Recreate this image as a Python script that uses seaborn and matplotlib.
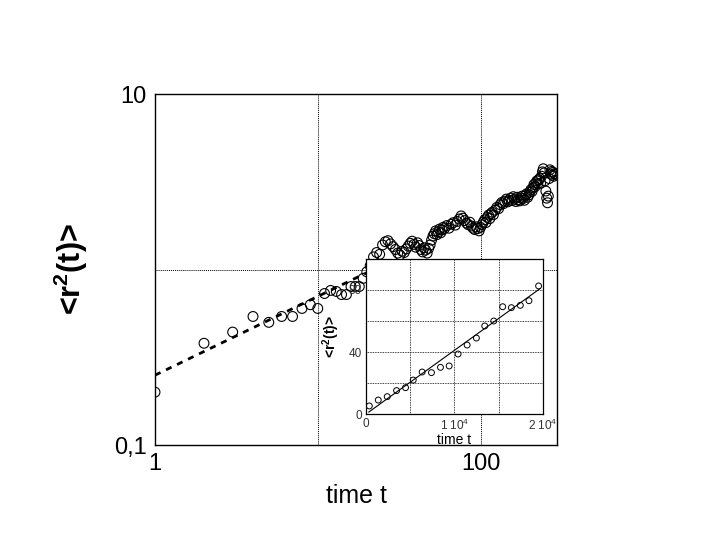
import matplotlib
matplotlib.use('Agg')
import matplotlib.pyplot as plt
from matplotlib.ticker import FixedLocator, FixedFormatter, NullLocator
import seaborn as sns
import pandas as pd

# main panel: mean square displacement vs time (log-log)
t_main = (list(range(1, 61))
          + list(range(62, 121, 2))
          + list(range(123, 229, 3))
          + list(range(231, 289, 3)))
r2_main = [
    0.20, 0.38, 0.44, 0.54, 0.50, 0.54, 0.54, 0.60, 0.63, 0.60,
    0.73, 0.76, 0.75, 0.72, 0.72, 0.80, 0.80, 0.80, 0.89, 0.97,
    1.05, 1.18, 1.25, 1.22, 1.38, 1.44, 1.46, 1.40, 1.35, 1.30,
    1.24, 1.21, 1.27, 1.25, 1.31, 1.36, 1.41, 1.45, 1.39, 1.34,
    1.42, 1.37, 1.30, 1.26, 1.33, 1.29, 1.24, 1.32, 1.38, 1.47,
    1.55, 1.60, 1.66, 1.58, 1.64, 1.70, 1.62, 1.68, 1.74, 1.71,
    # 62..120 step 2
    1.78, 1.72, 1.81, 1.85, 1.79, 1.88, 1.94, 2.02, 1.96, 1.90,
    1.84, 1.80, 1.86, 1.77, 1.72, 1.69, 1.75, 1.71, 1.66, 1.74,
    1.80, 1.86, 1.92, 1.85, 1.98, 2.04, 1.95, 2.08, 2.12, 2.05,
    # 123..228 step 3
    2.18, 2.26, 2.22, 2.34, 2.41, 2.37, 2.45, 2.52, 2.43, 2.48,
    2.55, 2.47, 2.60, 2.52, 2.44, 2.58, 2.50, 2.46, 2.56, 2.62,
    2.54, 2.48, 2.64, 2.70, 2.58, 2.66, 2.76, 2.85, 2.78, 2.92,
    3.05, 2.96, 3.12, 3.20, 3.08, 3.25,
    # 231..288 step 3
    3.30, 3.10, 3.40, 3.60, 3.75, 3.55, 3.20, 2.80, 2.55, 2.40,
    2.62, 3.30, 3.70, 3.50, 3.62, 3.45, 3.58, 3.40, 3.52, 3.48,
]

# power-law fit shown as dashed line (end points)
fit_main_t = [1, 30]
fit_main_r2 = [0.25, 1.15]

# inset: linear scale, long times
t_inset = [376, 1390, 2400, 3460, 4470, 5340, 6350, 7400, 8420, 9400,
           10410, 11430, 12480, 13420, 14440, 15450, 16430, 17440, 18420, 19510]
r2_inset = [5.2, 9.0, 11.2, 15.1, 17.0, 21.9, 27.1, 26.7, 30.1, 31.0,
            38.7, 44.5, 49.0, 56.8, 60.0, 69.2, 68.6, 70.1, 73.1, 82.6]
fit_inset_t = [300, 19700]
fit_inset_r2 = [1.2, 81.0]

df_main = pd.DataFrame({'t': t_main, 'r2': r2_main})
df_fit = pd.DataFrame({'t': fit_main_t, 'r2': fit_main_r2})
df_in = pd.DataFrame({'t': t_inset, 'r2': r2_inset})
df_in_fit = pd.DataFrame({'t': fit_inset_t, 'r2': fit_inset_r2})

sns.set_style('white')
plt.rcParams['font.family'] = ['Liberation Sans', 'DejaVu Sans']
plt.rcParams['mathtext.fontset'] = 'custom'
plt.rcParams['mathtext.rm'] = 'Liberation Sans'
plt.rcParams['mathtext.bf'] = 'Liberation Sans:bold'
plt.rcParams['text.color'] = 'black'
plt.rcParams['axes.labelcolor'] = 'black'
plt.rcParams['xtick.color'] = 'black'
plt.rcParams['ytick.color'] = 'black'

fig = plt.figure(figsize=(7.2, 5.4), dpi=100)
ax = fig.add_axes([0.2153, 0.1759, 0.5583, 0.65])

sns.lineplot(data=df_fit, x='t', y='r2', ax=ax, color='black', lw=2.0,
             dashes=False, linestyle=(0, (2.2, 2.2)), zorder=2)
sns.scatterplot(data=df_main, x='t', y='r2', ax=ax, marker='o', s=50,
                facecolor='none', edgecolor='black', linewidth=0.8, zorder=3)

ax.set_xscale('log')
ax.set_yscale('log')
ax.set_xlim(1, 295)
ax.set_ylim(0.1, 10)
ax.xaxis.set_major_locator(FixedLocator([1, 10, 100]))
ax.xaxis.set_major_formatter(FixedFormatter(['1', '', '100']))
ax.xaxis.set_minor_locator(NullLocator())
ax.yaxis.set_major_locator(FixedLocator([0.1, 1, 10]))
ax.yaxis.set_major_formatter(FixedFormatter(['0,1', '', '10']))
ax.yaxis.set_minor_locator(NullLocator())
ax.tick_params(length=0, labelsize=17, pad=6)
ax.grid(True, which='major', color='black', linestyle=(0, (1, 1)), lw=0.7)
for sp in ax.spines.values():
    sp.set_color('black')
    sp.set_linewidth(1.0)
ax.set_xlabel('time t', fontsize=18, labelpad=6)
ax.set_ylabel(r'<r$^{\mathbf{2}}$(t)>', fontsize=22, fontweight='bold', labelpad=17)

# inset
axi = fig.add_axes([0.5083, 0.2333, 0.2458, 0.2871])
axi.set_facecolor('white')
sns.lineplot(data=df_in_fit, x='t', y='r2', ax=axi, color='black', lw=0.8, zorder=2)
sns.scatterplot(data=df_in, x='t', y='r2', ax=axi, marker='o', s=18,
                facecolor='none', edgecolor='black', linewidth=0.7, zorder=3)
axi.set_xlim(0, 20000)
axi.set_ylim(0, 100)
axi.xaxis.set_major_locator(FixedLocator([0, 5000, 10000, 15000, 20000]))
axi.xaxis.set_major_formatter(FixedFormatter(['0', '', r'1 10$^4$', '', r'2 10$^4$']))
axi.yaxis.set_major_locator(FixedLocator([0, 20, 40, 60, 80, 100]))
axi.yaxis.set_major_formatter(FixedFormatter(['0', '', '40', '', '80', '']))
axi.tick_params(length=0, labelsize=8.5, pad=3, colors='#333333')
axi.grid(True, color='black', linestyle=(0, (1, 1)), lw=0.6)
for sp in axi.spines.values():
    sp.set_color('black')
    sp.set_linewidth(0.9)
axi.set_xlabel('time t', fontsize=10, labelpad=0)
axi.set_ylabel(r'<r$^{\mathbf{2}}$(t)>', fontsize=10, fontweight='bold', labelpad=5)

fig.savefig('out.png', dpi=100)
